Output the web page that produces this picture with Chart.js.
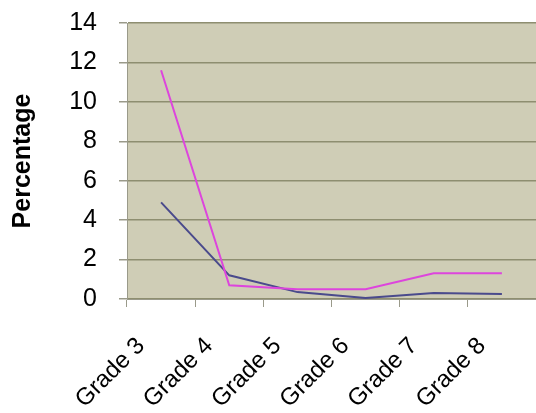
<!DOCTYPE html>
<html>
<head>
<meta charset="utf-8">
<script src="https://cdn.jsdelivr.net/npm/chart.js@4/dist/chart.umd.min.js"></script>
<style>
html,body{margin:0;padding:0;background:#fff;}
</style>
</head>
<body>
<canvas id="canvas" width="536" height="413"></canvas>
<script>
var grades=["Grade 3","Grade 4","Grade 5","Grade 6","Grade 7","Grade 8"];
var serieRose=[11.6,0.7,0.5,0.5,1.3,1.3];
var serieBleue=[4.9,1.2,0.35,0.05,0.3,0.25];
var yMin=0, yMax=14, yPas=2;

// fond beige de la zone de tracé
var fondZone={
  id:"fondZone",
  beforeDraw:function(chart){
    var a=chart.chartArea, ctx=chart.ctx;
    ctx.save();
    ctx.fillStyle="#cfcdb6";
    ctx.fillRect(a.left,a.top,a.right-a.left,a.bottom-a.top);
    ctx.restore();
  }
};

var courbeRose={
  label:"Série 1",
  data:serieRose,
  borderColor:"#dd45dd",
  backgroundColor:"#dd45dd",
  borderWidth:2,
  pointRadius:0,
  tension:0,
  fill:false
};
var courbeBleue={
  label:"Série 2",
  data:serieBleue,
  borderColor:"#4a4a8c",
  backgroundColor:"#4a4a8c",
  borderWidth:2,
  pointRadius:0,
  tension:0,
  fill:false
};

var config={
  type:"line",
  data:{labels:grades, datasets:[courbeRose,courbeBleue]},
  plugins:[fondZone],
  options:{
    responsive:false,
    animation:false,
    events:[],
    layout:{padding:{top:23,right:0,left:0,bottom:0}},
    plugins:{legend:{display:false}, tooltip:{enabled:false}},
    scales:{
      x:{
        offset:true,
        afterFit:function(s){s.height=114; s.paddingLeft=0; s.paddingRight=0;},
        grid:{drawOnChartArea:false, offset:true, tickLength:8, color:"#9a9a8a", lineWidth:1},
        border:{display:true, color:"#9a9a8a"},
        ticks:{
          autoSkip:false, minRotation:45, maxRotation:45,
          labelOffset:-20, padding:25,
          color:"#000",
          font:{family:"'Liberation Sans', Arial, sans-serif", size:24}
        }
      },
      y:{
        min:yMin, max:yMax,
        afterFit:function(s){s.width=127; s.paddingTop=0; s.paddingBottom=0;},
        grid:{color:"#8e8e70", lineWidth:1.5, tickLength:8, tickColor:"#9a9a8a"},
        border:{display:true, color:"#9a9a8a"},
        ticks:{
          stepSize:yPas, padding:22, color:"#000",
          font:{family:"'Liberation Sans', Arial, sans-serif", size:25}
        },
        title:{
          display:true, text:"Percentage", color:"#000",
          padding:{top:8,bottom:0},
          font:{family:"'Liberation Sans', Arial, sans-serif", size:25, weight:"bold"}
        }
      }
    }
  }
};

window.onload=function(){
  var ctx=document.getElementById("canvas").getContext("2d");
  window.graph1=new Chart(ctx,config);
};
</script>
</body>
</html>
